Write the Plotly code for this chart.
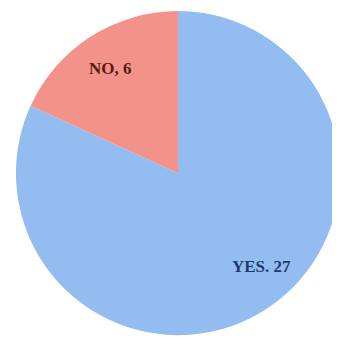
import math
import plotly.graph_objects as go

labels = ["YES", "NO"]
values = [27, 6]
separators = [". ", ", "]
colors = ["#93BDF0", "#F3928A"]
text_colors = ["#1E3A6E", "#5C1A12"]

# layout / style settings
FIG_W, FIG_H = 332, 337
DOM_X = [0.024, 1.0]
DOM_Y = [0.02, 1.0]
LABEL_R_FRAC = 0.77
LABEL_ANGLE_NUDGE = {"YES": -9.0, "NO": 0.0}

texts = [f"{l}{s}{v}" for l, s, v in zip(labels, separators, values)]

fig = go.Figure(go.Pie(
    labels=labels,
    values=values,
    textinfo="none",
    sort=False,
    direction="clockwise",
    rotation=0,
    marker=dict(colors=colors, line=dict(width=0)),
    domain=dict(x=DOM_X, y=DOM_Y),
    showlegend=False,
    hoverinfo="label+value",
))

# label positions derived from the slice mid-angles
dw = (DOM_X[1] - DOM_X[0]) * FIG_W
dh = (DOM_Y[1] - DOM_Y[0]) * FIG_H
r = min(dw, dh) / 2
cx = (DOM_X[0] + DOM_X[1]) / 2 * FIG_W
cy = (1 - (DOM_Y[0] + DOM_Y[1]) / 2) * FIG_H
total = sum(values)
cum = 0.0
for lab, val, txt, tc in zip(labels, values, texts, text_colors):
    mid = (cum + val / 2) / total * 360 + LABEL_ANGLE_NUDGE[lab]
    cum += val
    a = math.radians(mid)
    px = cx + r * LABEL_R_FRAC * math.sin(a)
    py = cy - r * LABEL_R_FRAC * math.cos(a)
    fig.add_annotation(
        x=px / FIG_W, y=1 - py / FIG_H, xref="paper", yref="paper",
        text=f"<b>{txt}</b>", showarrow=False,
        xanchor="center", yanchor="middle",
        font=dict(family="Liberation Serif", size=17, color=tc),
    )

fig.update_layout(
    width=FIG_W, height=FIG_H,
    margin=dict(l=0, r=0, t=0, b=0),
    paper_bgcolor="white",
    plot_bgcolor="white",
)

fig.write_html("out.html")
